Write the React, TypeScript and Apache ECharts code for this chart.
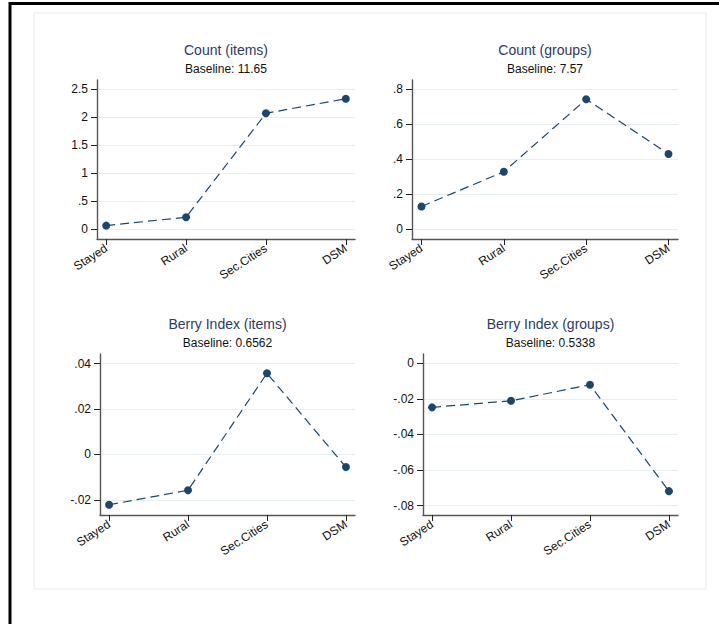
import React, { useEffect, useRef } from "react";
import * as echarts from "echarts";

const categories = ["Stayed", "Rural", "Sec.Cities", "DSM"];

const titles = ["Count (items)", "Count (groups)", "Berry Index (items)", "Berry Index (groups)"];
const baselines = ["Baseline: 11.65", "Baseline: 7.57", "Baseline: 0.6562", "Baseline: 0.5338"];

const countItems = [0.06, 0.21, 2.07, 2.33];
const countGroups = [0.131, 0.329, 0.743, 0.43];
const berryItems = [-0.0222, -0.0158, 0.0357, -0.0056];
const berryGroups = [-0.0248, -0.0211, -0.0121, -0.0719];

const ticks1 = [0, 0.5, 1, 1.5, 2, 2.5];
const ticks2 = [0, 0.2, 0.4, 0.6, 0.8];
const ticks3 = [-0.02, 0, 0.02, 0.04];
const ticks4 = [-0.08, -0.06, -0.04, -0.02, 0];

const seriesValues = [countItems, countGroups, berryItems, berryGroups];
const tickSets = [ticks1, ticks2, ticks3, ticks4];

function fmt(v: number): string {
  if (v === 0) return "0";
  let s = String(Number(v.toFixed(4)));
  s = s.replace(/^0\./, ".").replace(/^-0\./, "-.");
  return s;
}

const grids = [
  { left: 97, top: 80, width: 258, height: 159 },
  { left: 412, top: 80, width: 266, height: 159 },
  { left: 100, top: 354, width: 255, height: 161 },
  { left: 423, top: 354, width: 255, height: 161 },
];
const yRanges = [
  [-0.18, 2.666],
  [-0.055, 0.853],
  [-0.0267, 0.0442],
  [-0.0853, 0.0052],
];

const FONT = "Liberation Sans, Arial, sans-serif";

export default function App() {
  const ref = useRef<HTMLDivElement>(null);
  useEffect(() => {
    if (!ref.current) return;
    const chart = echarts.init(ref.current, null, { renderer: "svg" });
    const navy = "#1a476f";
    const option: any = {
      animation: false,
      backgroundColor: "#ffffff",
      textStyle: { fontFamily: FONT },
      title: grids.map((g, i) => ({
        text: titles[i],
        subtext: baselines[i],
        left: g.left + g.width / 2,
        top: g.top - 37,
        textAlign: "center",
        itemGap: 6,
        padding: 0,
        textStyle: { fontSize: 14, fontWeight: "normal", color: "#2b3b68", fontFamily: FONT },
        subtextStyle: { fontSize: 12, color: "#111", fontFamily: FONT },
      })),
      grid: grids.map((g) => ({ ...g, containLabel: false })),
      xAxis: grids.map((g, i) => ({
        type: "value",
        gridIndex: i,
        min: -0.115,
        max: 3.115,
        axisLine: { show: true, onZero: false, lineStyle: { color: "#555", width: 1.4 } },
        axisTick: { show: true, length: 6, customValues: [0, 1, 2, 3], lineStyle: { color: "#222", width: 1 } },
        axisLabel: {
          customValues: [0, 1, 2, 3],
          formatter: (v: number) => categories[Math.round(v)] ?? "",
          rotate: 33,
          margin: 8,
          fontSize: 12,
          color: "#111",
          fontFamily: FONT,
        },
        splitLine: { show: false },
      })),
      yAxis: grids.map((g, i) => ({
        type: "value",
        gridIndex: i,
        min: yRanges[i][0],
        max: yRanges[i][1],
        axisLine: { show: true, onZero: false, lineStyle: { color: "#555", width: 1.4 } },
        axisTick: { show: true, length: 6, customValues: tickSets[i], lineStyle: { color: "#222", width: 1 } },
        axisLabel: {
          customValues: tickSets[i],
          formatter: (v: number) => fmt(v),
          margin: 9,
          fontSize: 12,
          color: "#111",
          fontFamily: FONT,
        },
        splitLine: { show: true, lineStyle: { color: "#e6eef0", width: 1.2 } },
      })),
      series: seriesValues.map((vals, i) => ({
        type: "line",
        xAxisIndex: i,
        yAxisIndex: i,
        data: vals.map((v, j) => [j, v]),
        symbol: "circle",
        symbolSize: 8,
        itemStyle: { color: navy },
        lineStyle: { color: navy, width: 1.2, type: [9, 5] },
      })),
      graphic: [
        {
          type: "rect",
          shape: { x: 34, y: 13, width: 672, height: 576 },
          style: { fill: "none", stroke: "#e4ecee", lineWidth: 1 },
          silent: true,
        },
        {
          type: "polyline",
          shape: { points: [[10, 800], [10, 3.5], [800, 3.5]] },
          style: { fill: "none", stroke: "#000", lineWidth: 3 },
          silent: true,
        },
      ],
    };
    chart.setOption(option);
    return () => chart.dispose();
  }, []);
  return <div ref={ref} style={{ position: "fixed", left: 0, top: 0, width: 719, height: 624 }} />;
}
